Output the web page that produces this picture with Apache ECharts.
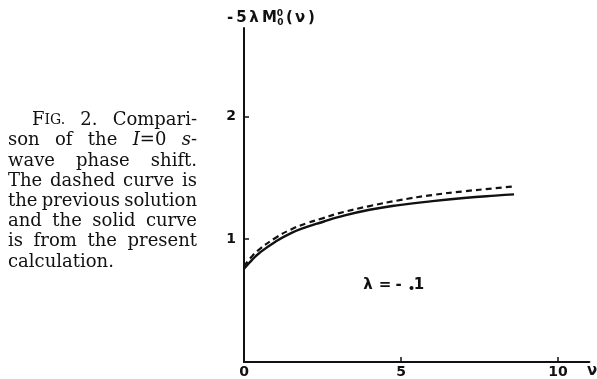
<!DOCTYPE html>
<html>
<head>
<meta charset="utf-8">
<script src="https://cdn.jsdelivr.net/npm/echarts@6/dist/echarts.min.js"></script>
<style>
  html, body { margin: 0; padding: 0; background: #fff; }
  #chart { width: 597px; height: 379px; }
</style>
</head>
<body>
<div id="chart"></div>
<script>
// ν values along the curves
const nu = [0, 0.25, 0.5, 1, 1.5, 2, 2.5, 3, 4, 5, 6, 7, 8, 8.6];
// present calculation (solid)
const presentCalc = [0.76, 0.83, 0.89, 0.98, 1.05, 1.10, 1.14, 1.18, 1.24, 1.28, 1.31, 1.335, 1.355, 1.365];
// previous solution (dashed)
const previousSol = [0.78, 0.86, 0.92, 1.01, 1.08, 1.13, 1.17, 1.21, 1.27, 1.32, 1.36, 1.39, 1.415, 1.43];

const xTickValues = [5, 10];
const xLabelValues = [0, 5, 10];
const yTickValues = [1, 2];

// caption words: each word is a list of [text, style] pieces
const captionLines = [
  [[['F', 'n'], ['IG.', 'sc']], [['2.', 'n']], [['Compari-', 'n']]],
  [[['son', 'n']], [['of', 'n']], [['the', 'n']], [['I', 'i'], ['=0', 'n']], [['s', 'i'], ['-', 'n']]],
  [[['wave', 'n']], [['phase', 'n']], [['shift.', 'n']]],
  [[['The', 'n']], [['dashed', 'n']], [['curve', 'n']], [['is', 'n']]],
  [[['the', 'n']], [['previous', 'n']], [['solution', 'n']]],
  [[['and', 'n']], [['the', 'n']], [['solid', 'n']], [['curve', 'n']]],
  [[['is', 'n']], [['from', 'n']], [['the', 'n']], [['present', 'n']]],
  [[['calculation.', 'n']]]
];

const serif = '"DejaVu Serif", serif';
const capSize = 18;
const scSize = 14;
const capFonts = {
  n: 'normal normal ' + capSize + 'px ' + serif,
  i: 'italic normal ' + capSize + 'px ' + serif,
  sc: 'normal normal ' + scSize + 'px ' + serif
};
const richCap = {
  n: { fontFamily: serif, fontSize: capSize, fill: '#111' },
  i: { fontFamily: serif, fontSize: capSize, fontStyle: 'italic', fill: '#111' },
  sc: { fontFamily: serif, fontSize: scSize, fill: '#111' }
};

const measureCtx = document.createElement('canvas').getContext('2d');
function wordWidth(word) {
  let w = 0;
  word.forEach(([t, s]) => { measureCtx.font = capFonts[s]; w += measureCtx.measureText(t).width; });
  return w;
}

// justified caption block
const capLeft = 8, capRight = 197, capTop = 126.5, capLead = 20.2;
const captionGraphics = [];
captionLines.forEach((words, li) => {
  const left = li === 0 ? 32 : capLeft;
  const widths = words.map(wordWidth);
  const total = widths.reduce((a, b) => a + b, 0);
  const last = li === captionLines.length - 1;
  const gap = (last || words.length < 2) ? 0 : (capRight - left - total) / (words.length - 1);
  let x = left;
  const baseY = capTop + li * capLead;
  words.forEach((word, wi) => {
    const text = word.map(([t, s]) => '{' + s + '|' + t + '}').join('');
    captionGraphics.push({
      type: 'text', left: x, top: baseY - 15,
      style: { text: text, rich: richCap, fill: '#111' }
    });
    x += widths[wi] + gap;
  });
});

const hand = '"DejaVu Sans", sans-serif';
function glyph(ch, cx, cy, size) {
  return {
    type: 'text', x: cx, y: cy,
    style: { text: ch, font: 'bold ' + (size || 15) + 'px ' + hand, fill: '#111', align: 'center', verticalAlign: 'middle' }
  };
}

// y-axis title -5λM₀⁰(ν), spaced like hand lettering
const yTitle = [
  glyph('-', 230, 18), glyph('5', 241.5, 18), glyph('λ', 254, 18), glyph('M', 269.5, 18),
  glyph('0', 280, 14, 9), glyph('0', 280.5, 22.5, 9),
  glyph('(', 289.5, 18), glyph('ν', 300, 18), glyph(')', 311.5, 18)
];
// parameter label λ = -.1
const lamLabel = [
  glyph('λ', 368, 285), glyph('=', 385, 285), glyph('-', 398.5, 285),
  { type: 'circle', shape: { cx: 411.5, cy: 288, r: 2 }, style: { fill: '#111' } },
  glyph('1', 419, 285)
];
const nuLabel = [glyph('ν', 592, 371)];

const chart = echarts.init(document.getElementById('chart'), null, { renderer: 'canvas' });
chart.setOption({
  animation: false,
  backgroundColor: '#fff',
  grid: { left: 244, right: 7.6, top: 28, bottom: 13 },
  xAxis: {
    type: 'value', min: 0, max: 11, interval: 5,
    axisLine: { show: true, onZero: false, lineStyle: { color: '#111', width: 2 } },
    axisTick: { show: true, inside: true, length: 5, customValues: xTickValues, lineStyle: { color: '#111', width: 1.5 } },
    axisLabel: { customValues: xLabelValues, margin: 3, color: '#111', fontFamily: hand, fontWeight: 'bold', fontSize: 14 },
    splitLine: { show: false }
  },
  yAxis: {
    type: 'value', min: 0, max: 2.72, interval: 1,
    axisLine: { show: true, onZero: false, lineStyle: { color: '#111', width: 2 } },
    axisTick: { show: true, inside: true, length: 5, customValues: yTickValues, lineStyle: { color: '#111', width: 1.5 } },
    axisLabel: { customValues: yTickValues, margin: 8, color: '#111', fontFamily: hand, fontWeight: 'bold', fontSize: 14 },
    splitLine: { show: false }
  },
  series: [
    {
      name: 'previous solution', type: 'line', smooth: true, symbol: 'none',
      data: nu.map((v, i) => [v, previousSol[i]]),
      lineStyle: { color: '#111', width: 2.2, type: [6, 4] }
    },
    {
      name: 'present calculation', type: 'line', smooth: true, symbol: 'none',
      data: nu.map((v, i) => [v, presentCalc[i]]),
      lineStyle: { color: '#111', width: 2.4 }
    }
  ],
  graphic: [].concat(captionGraphics, yTitle, lamLabel, nuLabel)
});
</script>
</body>
</html>
